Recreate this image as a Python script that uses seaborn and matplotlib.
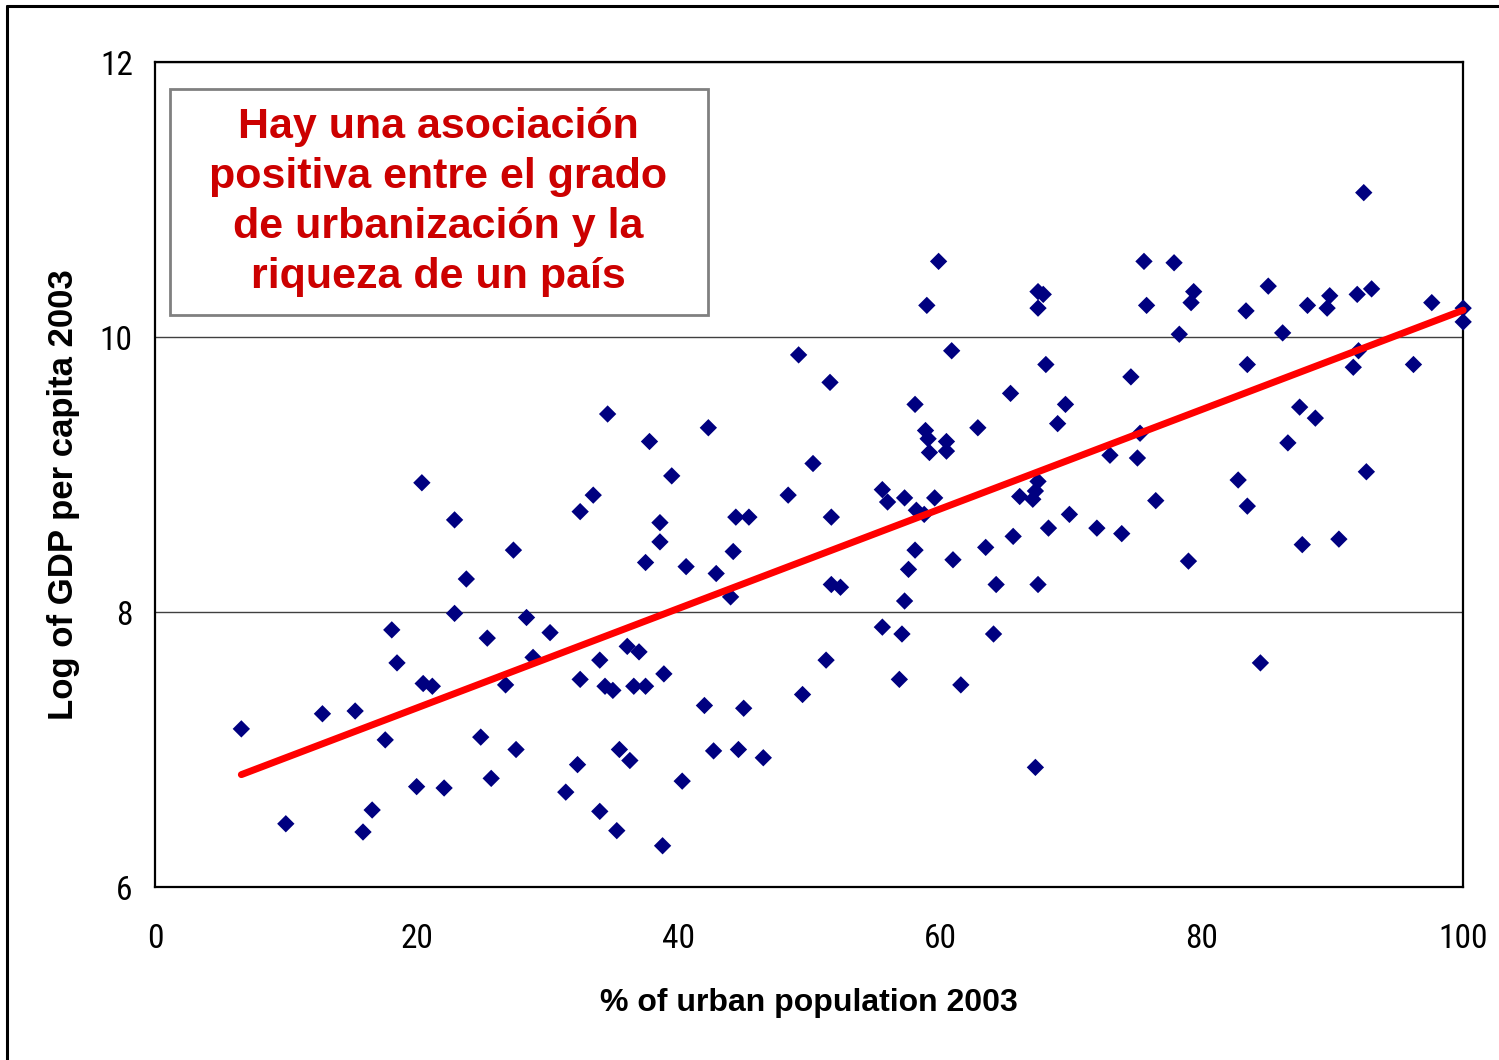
import matplotlib.pyplot as plt
import matplotlib.patches as mpatches
from matplotlib.lines import Line2D
import pandas as pd
import seaborn as sns

# % of urban population 2003 (x) and log GDP per capita 2003 (y)
urban_pct = [
    6.6, 10.0, 12.8, 15.3, 15.9, 16.6, 17.6, 18.1, 18.5, 20.0, 20.4, 20.5, 21.2, 22.1,
    22.9, 22.9, 23.8, 24.9, 25.4, 25.7, 26.8, 27.4, 27.6, 28.4, 28.9, 30.2, 31.4, 32.3,
    32.5, 32.5, 33.5, 34.0, 34.0, 34.4, 34.6, 35.0, 35.3, 35.5, 36.1, 36.3, 36.6, 37.0,
    37.5, 37.5, 37.8, 38.6, 38.6, 38.8, 38.9, 39.5, 40.3, 40.6, 42.0, 42.3, 42.7, 42.9,
    44.0, 44.2, 44.4, 44.6, 45.0, 45.4, 46.5, 48.4, 49.2, 49.5, 50.3, 51.3, 51.6, 51.7,
    51.7, 52.4,
    55.6, 56.0, 57.3, 59.6, 58.2, 58.8, 66.1, 67.1, 67.3, 67.5, 69.9, 68.3, 72.0, 73.9,
    65.6, 63.5, 58.1, 61.0, 57.6, 64.3, 67.5, 57.3, 55.6, 57.1, 64.1, 56.9, 61.6, 67.3,
    59.9, 59.0, 67.5, 67.9, 67.5, 75.6, 75.8, 60.9, 68.1, 74.6, 58.1, 65.4, 69.6, 69.0,
    62.9, 58.9, 59.1, 60.5, 59.2, 60.5, 73.0, 75.1, 75.3, 76.5,
    92.4, 77.9, 79.4, 79.2, 78.3, 85.1, 83.4, 86.2, 88.1, 89.8, 89.6, 91.9, 93.0, 97.6,
    100.0, 100.0, 92.0, 91.6, 83.5, 96.2, 87.5, 88.7, 86.6, 92.6, 82.8, 83.5, 79.0, 87.7,
    90.5, 84.5,
]
log_gdp = [
    7.15, 6.46, 7.26, 7.28, 6.40, 6.56, 7.07, 7.87, 7.63, 6.73, 8.94, 7.48, 7.46, 6.72,
    8.67, 7.99, 8.24, 7.09, 7.81, 6.79, 7.47, 8.45, 7.00, 7.96, 7.67, 7.85, 6.69, 6.89,
    8.73, 7.51, 8.85, 7.65, 6.55, 7.46, 9.44, 7.43, 6.41, 7.00, 7.75, 6.92, 7.46, 7.71,
    8.36, 7.46, 9.24, 8.65, 8.51, 6.30, 7.55, 8.99, 6.77, 8.33, 7.32, 9.34, 6.99, 8.28,
    8.11, 8.44, 8.69, 7.00, 7.30, 8.69, 6.94, 8.85, 9.87, 7.40, 9.08, 7.65, 9.67, 8.69,
    8.20, 8.18,
    8.89, 8.80, 8.83, 8.83, 8.74, 8.71, 8.84, 8.82, 8.88, 8.95, 8.71, 8.61, 8.61, 8.57,
    8.55, 8.47, 8.45, 8.38, 8.31, 8.20, 8.20, 8.08, 7.89, 7.84, 7.84, 7.51, 7.47, 6.87,
    10.55, 10.23, 10.33, 10.31, 10.21, 10.55, 10.23, 9.90, 9.80, 9.71, 9.51, 9.59, 9.51, 9.37,
    9.34, 9.32, 9.26, 9.24, 9.16, 9.17, 9.14, 9.12, 9.30, 8.81,
    11.05, 10.54, 10.33, 10.25, 10.02, 10.37, 10.19, 10.03, 10.23, 10.30, 10.21, 10.31, 10.35, 10.25,
    10.21, 10.11, 9.90, 9.78, 9.80, 9.80, 9.49, 9.41, 9.23, 9.02, 8.96, 8.77, 8.37, 8.49,
    8.53, 7.63,
]

x_ticks = [0, 20, 40, 60, 80, 100]
y_ticks = [6, 8, 10, 12]
note_text = ("Hay una asociación\npositiva entre el grado\n"
             "de urbanización y la\nriqueza de un país")

df = pd.DataFrame({"urban": urban_pct, "loggdp": log_gdp})

sns.set_style("white")
narrow = ["Roboto Condensed", "DejaVu Sans"]
plt.rcParams["font.family"] = ["Liberation Sans", "DejaVu Sans"]
plt.rcParams["text.color"] = "black"
plt.rcParams["axes.labelcolor"] = "black"
plt.rcParams["xtick.color"] = "black"
plt.rcParams["ytick.color"] = "black"

fig = plt.figure(figsize=(14.99, 10.60), dpi=100)
ax = fig.add_axes([0.1034, 0.1632, 0.8727, 0.7783])

sns.scatterplot(x="urban", y="loggdp", data=df, marker="D", s=78, color="#000080",
                edgecolor="none", ax=ax, clip_on=False, zorder=3)
sns.regplot(x="urban", y="loggdp", data=df, scatter=False, ci=None, truncate=True,
            color="#FF0000", ax=ax,
            line_kws={"lw": 5, "solid_capstyle": "round", "zorder": 4, "clip_on": False})

ax.set_xlim(0, 100)
ax.set_ylim(6, 12)
ax.set_xticks(x_ticks)
ax.set_yticks(y_ticks)
ax.yaxis.grid(True, color="#404040", lw=1)
ax.xaxis.grid(False)
for s in ax.spines.values():
    s.set_color("black")
    s.set_linewidth(1.6)
ax.tick_params(axis="both", direction="out", length=6, width=1.2, color="black",
               labelsize=24)
ax.tick_params(axis="x", pad=20)
ax.tick_params(axis="y", pad=10)
for lab in ax.get_xticklabels() + ax.get_yticklabels():
    lab.set_family(narrow)

ax.set_xlabel("% of urban population 2003", fontsize=23, fontweight="bold")
ax.set_ylabel("Log of GDP per capita 2003", fontsize=25, fontweight="bold")
ax.xaxis.set_label_coords(0.5, -0.1224)
ax.yaxis.set_label_coords(-0.0573, 0.476)

# annotation box
ax.add_patch(mpatches.Rectangle((0.0115, 0.693), 0.4113, 0.274, transform=ax.transAxes,
                                facecolor="white", edgecolor="#808080", lw=2, zorder=5))
ax.text(0.2164, 0.830, note_text, transform=ax.transAxes, ha="center", va="center",
        fontsize=31, fontweight="bold", color="#CC0000",
        linespacing=1.32, zorder=6)

# chart area border (left and top edges visible)
fig.add_artist(Line2D([0.0047, 0.0047], [0.0, 0.9945], color="black", lw=2.2))
fig.add_artist(Line2D([0.0047, 1.0], [0.9945, 0.9945], color="black", lw=2.2))

plt.savefig("out.png", dpi=100)
